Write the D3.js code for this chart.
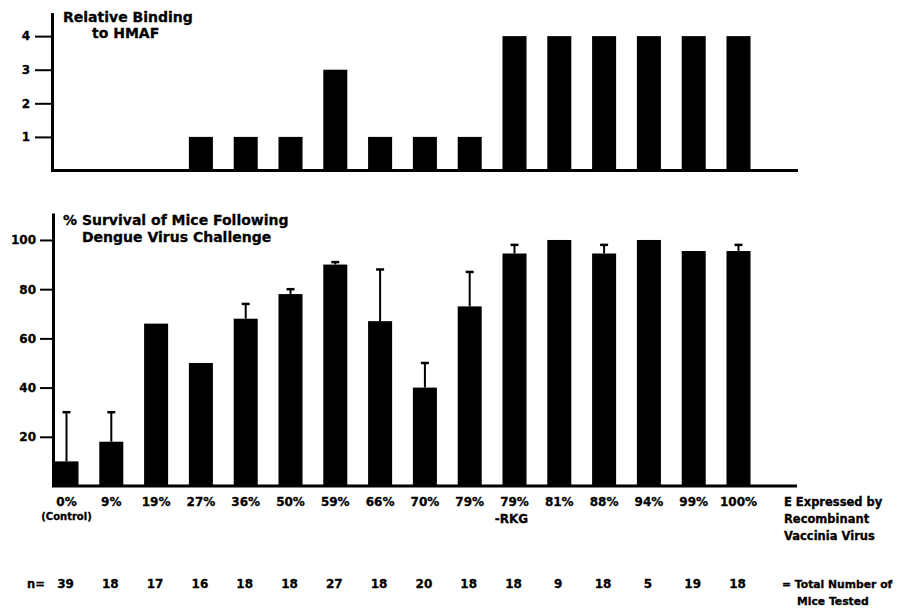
<!DOCTYPE html>
<html>
<head>
<meta charset="utf-8">
<script src="https://cdn.jsdelivr.net/npm/d3@7"></script>
<style>
  html, body { margin: 0; padding: 0; background: #fff; }
  svg { display: block; }
  text { font-family: "DejaVu Sans", "Liberation Sans", Arial, sans-serif; font-weight: bold; fill: #000; stroke: #000; stroke-width: 0.3px; }
</style>
</head>
<body>
<svg id="chart" width="897" height="608"></svg>
<script>
// E protein expression levels of the recombinant vaccinia viruses
const categories = ["0%", "9%", "19%", "27%", "36%", "50%", "59%", "66%", "70%", "79%", "79%", "81%", "88%", "94%", "99%", "100%"];
const subLabels  = ["(Control)", "", "", "", "", "", "", "", "", "", "-RKG", "", "", "", "", ""];

// Relative binding to HMAF (0-4 scale)
const binding = [0, 0, 0, 1, 1, 1, 3, 1, 1, 1, 4, 4, 4, 4, 4, 4];
const bindingTicks = [1, 2, 3, 4];

// % survival of mice after dengue virus challenge, with upper error extent
const survival    = [10, 18, 66, 50, 68, 78, 90, 67, 40, 73, 94.5, 100, 94.5, 100, 95.5, 95.5];
const survivalErr = [20, 12, 0, 0, 6, 2, 1, 21, 10, 14, 3.5, 0, 3.5, 0, 0, 2.5];
const survivalTicks = [20, 40, 60, 80, 100];

// Number of mice tested per group
const nTested = [39, 18, 17, 16, 18, 18, 27, 18, 20, 18, 18, 9, 18, 5, 19, 18];

const svg = d3.select("#chart");
const idx = d3.range(categories.length);

const x = d3.scaleBand()
  .domain(idx)
  .range([44.1, 760.9])
  .paddingInner(0.464)
  .paddingOuter(0.232);
const bw = x.bandwidth();
const cx = i => x(i) + bw / 2;

// ---------- Top panel: relative binding ----------
const yTop = d3.scaleLinear().domain([0, 4.7]).range([170.5, 12.6]);

svg.append("g")
  .selectAll("rect")
  .data(binding)
  .join("rect")
  .attr("x", (d, i) => x(i))
  .attr("y", d => yTop(d))
  .attr("width", bw)
  .attr("height", d => yTop(0) - yTop(d))
  .attr("fill", "#000");

const axTop = svg.append("g")
  .attr("transform", "translate(52,0)")
  .call(d3.axisLeft(yTop).tickValues(bindingTicks).tickSize(17).tickSizeOuter(0).tickPadding(5).tickFormat(d3.format("d")));
axTop.select(".domain").attr("stroke", "#000").attr("stroke-width", 3);
axTop.selectAll(".tick line").attr("stroke", "#000").attr("stroke-width", 2);
axTop.selectAll(".tick text").style("font-size", "12px");

svg.append("line")
  .attr("x1", 51).attr("x2", 798)
  .attr("y1", yTop(0)).attr("y2", yTop(0))
  .attr("stroke", "#000").attr("stroke-width", 3);

const titleTop = svg.append("text").attr("x", 63).attr("y", 22).style("font-size", "14px");
titleTop.append("tspan").attr("x", 63).text("Relative Binding");
titleTop.append("tspan").attr("x", 92).attr("dy", 16).text("to HMAF");

// ---------- Bottom panel: survival ----------
const yBot = d3.scaleLinear().domain([0, 111]).range([486, 212.9]);

svg.append("g")
  .selectAll("rect")
  .data(survival)
  .join("rect")
  .attr("x", (d, i) => x(i))
  .attr("y", d => yBot(d))
  .attr("width", bw)
  .attr("height", d => yBot(0) - yBot(d))
  .attr("fill", "#000");

// error bars (upper side only)
const errG = svg.append("g").attr("stroke", "#000");
idx.filter(i => survivalErr[i] > 0).forEach(i => {
  const top = yBot(survival[i] + survivalErr[i]);
  errG.append("line")
    .attr("x1", cx(i)).attr("x2", cx(i))
    .attr("y1", yBot(survival[i])).attr("y2", top)
    .attr("stroke-width", 2);
  errG.append("line")
    .attr("x1", cx(i) - 4).attr("x2", cx(i) + 4)
    .attr("y1", top).attr("y2", top)
    .attr("stroke-width", 2.5);
});

const axBot = svg.append("g")
  .attr("transform", "translate(53,0)")
  .call(d3.axisLeft(yBot).tickValues(survivalTicks).tickSize(13).tickSizeOuter(0).tickPadding(4).tickFormat(d3.format("d")));
axBot.select(".domain").attr("stroke", "#000").attr("stroke-width", 3);
axBot.selectAll(".tick line").attr("stroke", "#000").attr("stroke-width", 2);
axBot.selectAll(".tick text").style("font-size", "12px");

svg.append("line")
  .attr("x1", 52).attr("x2", 797)
  .attr("y1", yBot(0)).attr("y2", yBot(0))
  .attr("stroke", "#000").attr("stroke-width", 3);

const titleBot = svg.append("text").attr("x", 63).attr("y", 225).style("font-size", "14px");
titleBot.append("tspan").attr("x", 63).text("% Survival of Mice Following");
titleBot.append("tspan").attr("x", 82).attr("dy", 17).text("Dengue Virus Challenge");

// ---------- Category labels ----------
const labG = svg.append("g").attr("text-anchor", "middle");
labG.selectAll("text.cat")
  .data(categories)
  .join("text")
  .attr("class", "cat")
  .attr("x", (d, i) => cx(i))
  .attr("y", 506)
  .style("font-size", "12px")
  .text(d => d);
labG.selectAll("text.sub")
  .data(subLabels)
  .join("text")
  .attr("class", "sub")
  .attr("x", (d, i) => cx(i) - (i === 0 ? 0 : 3))
  .attr("y", (d, i) => i === 0 ? 520 : 523)
  .style("font-size", (d, i) => i === 0 ? "10px" : "12px")
  .text(d => d);

const eLab = svg.append("text").attr("x", 784).attr("y", 506).style("font-size", "11.5px");
["E Expressed by", "Recombinant", "Vaccinia Virus"].forEach((t, k) => {
  eLab.append("tspan").attr("x", 784).attr("dy", k === 0 ? 0 : 17).text(t);
});

// ---------- Group sizes ----------
svg.append("text").attr("x", 27).attr("y", 588).style("font-size", "11.5px").text("n=");
labG.selectAll("text.n")
  .data(nTested)
  .join("text")
  .attr("class", "n")
  .attr("x", (d, i) => cx(i) - 1)
  .attr("y", 588)
  .style("font-size", "12px")
  .text(d => d);

const nLab = svg.append("text").attr("x", 782).attr("y", 588).style("font-size", "10.8px");
nLab.append("tspan").attr("x", 782).text("= Total Number of");
nLab.append("tspan").attr("x", 797).attr("dy", 17).text("Mice Tested");
</script>
</body>
</html>
